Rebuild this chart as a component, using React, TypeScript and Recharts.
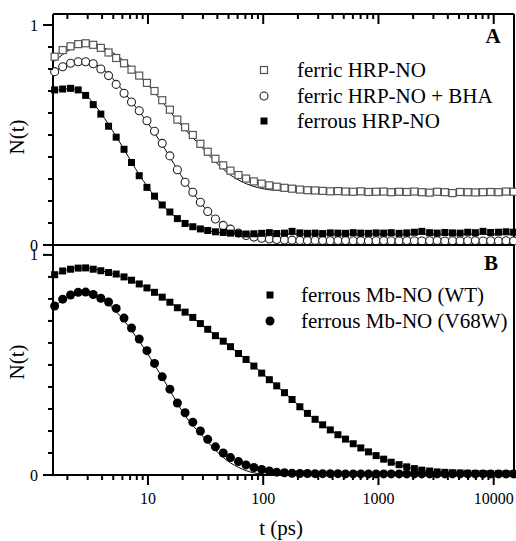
import React from "react";
import { ComposedChart, Line, XAxis, YAxis } from "recharts";

// sampling times (ps), shared by all series
const TIMES = [
  1.55, 1.82, 2.13, 2.48, 2.88, 3.35, 3.9, 4.55, 5.3, 6.2,
  7.2, 8.4, 9.8, 11.4, 13.3, 15.5, 18, 21, 24.5, 28.5,
  33, 38.5, 45, 52, 61, 71, 83, 97, 113, 131,
  153, 178, 208, 242, 282, 328, 382, 445, 518, 604,
  703, 819, 954, 1110, 1290, 1510, 1760, 2050, 2380, 2780,
  3230, 3770, 4390, 5110, 5950, 6930, 8080, 9410, 11000, 12800, 14900,
];

// panel A
const FERRIC = [
  0.856, 0.886, 0.903, 0.913, 0.917, 0.91, 0.896, 0.875, 0.85, 0.826,
  0.797, 0.77, 0.737, 0.7, 0.658, 0.615, 0.57, 0.535, 0.5, 0.46,
  0.424, 0.392, 0.362, 0.338, 0.318, 0.302, 0.289, 0.279, 0.271, 0.265,
  0.26, 0.256, 0.252, 0.249, 0.248, 0.246, 0.244, 0.245, 0.243, 0.242,
  0.244, 0.241, 0.242, 0.243, 0.24, 0.242, 0.241, 0.243, 0.24, 0.238,
  0.242, 0.24, 0.236, 0.241, 0.24, 0.239, 0.24, 0.241, 0.24, 0.243, 0.242,
];
const FERRIC_FIT = [
  0.835, 0.866, 0.89, 0.906, 0.913, 0.912, 0.903, 0.886, 0.864, 0.836,
  0.805, 0.77, 0.733, 0.693, 0.651, 0.608, 0.565, 0.525, 0.488, 0.452,
  0.414, 0.378, 0.345, 0.318, 0.296, 0.279, 0.266, 0.257, 0.251, 0.248,
  0.246, 0.245, 0.244, 0.244, 0.243, 0.243, 0.243, 0.243, 0.243, 0.243,
  0.243, 0.243, 0.243, 0.243, 0.243, 0.243, 0.243, 0.243, 0.243, 0.243,
  0.243, 0.243, 0.243, 0.243, 0.243, 0.243, 0.243, 0.243, 0.243, 0.243, 0.243,
];
const BHA = [
  0.788, 0.81, 0.826, 0.833, 0.833, 0.824, 0.8, 0.77, 0.73, 0.69,
  0.65, 0.61, 0.565, 0.517, 0.462, 0.405, 0.342, 0.285, 0.24, 0.194,
  0.152, 0.118, 0.089, 0.072, 0.054, 0.043, 0.036, 0.031, 0.027, 0.025,
  0.023, 0.022, 0.021, 0.02, 0.021, 0.02, 0.019, 0.02, 0.02, 0.019,
  0.02, 0.018, 0.019, 0.02, 0.019, 0.018, 0.02, 0.019, 0.018, 0.019,
  0.02, 0.018, 0.019, 0.018, 0.019, 0.02, 0.018, 0.019, 0.018, 0.019, 0.018,
];
const BHA_FIT = [
  0.79, 0.81, 0.825, 0.833, 0.834, 0.826, 0.806, 0.776, 0.738, 0.695,
  0.652, 0.607, 0.56, 0.51, 0.456, 0.4, 0.343, 0.288, 0.238, 0.193,
  0.153, 0.119, 0.091, 0.069, 0.052, 0.04, 0.031, 0.025, 0.021, 0.019,
  0.017, 0.016, 0.016, 0.015, 0.015, 0.015, 0.015, 0.015, 0.015, 0.015,
  0.015, 0.015, 0.015, 0.015, 0.015, 0.015, 0.015, 0.015, 0.015, 0.015,
  0.015, 0.015, 0.015, 0.015, 0.015, 0.015, 0.015, 0.015, 0.015, 0.015, 0.015,
];
const FERROUS = [
  0.705, 0.709, 0.712, 0.705, 0.68, 0.638, 0.595, 0.54, 0.49, 0.435,
  0.375, 0.315, 0.262, 0.222, 0.182, 0.15, 0.12, 0.098, 0.083, 0.073,
  0.066, 0.06, 0.057, 0.054, 0.052, 0.05, 0.051, 0.053, 0.056, 0.052,
  0.054, 0.062, 0.055, 0.053, 0.054, 0.052, 0.055, 0.054, 0.053, 0.056,
  0.054, 0.053, 0.055, 0.054, 0.056, 0.053, 0.055, 0.058, 0.062, 0.056,
  0.054, 0.057, 0.055, 0.054, 0.058, 0.056, 0.062, 0.057, 0.058, 0.06, 0.058,
];
const FERROUS_FIT = [
  0.7, 0.708, 0.71, 0.703, 0.683, 0.645, 0.6, 0.548, 0.493, 0.435,
  0.377, 0.32, 0.268, 0.222, 0.182, 0.148, 0.121, 0.1, 0.084, 0.072,
  0.064, 0.058, 0.055, 0.052, 0.051, 0.05, 0.05, 0.05, 0.05, 0.05,
  0.05, 0.05, 0.05, 0.05, 0.05, 0.05, 0.05, 0.05, 0.05, 0.05,
  0.05, 0.05, 0.05, 0.05, 0.05, 0.05, 0.05, 0.05, 0.05, 0.05,
  0.05, 0.05, 0.05, 0.05, 0.05, 0.05, 0.05, 0.05, 0.05, 0.05, 0.05,
];

// panel B
const WT = [
  0.91, 0.927, 0.935, 0.94, 0.941, 0.935, 0.928, 0.92, 0.913, 0.9,
  0.885, 0.868, 0.85, 0.83, 0.808, 0.785, 0.76, 0.74, 0.716, 0.688,
  0.662, 0.633, 0.608, 0.583, 0.552, 0.525, 0.495, 0.463, 0.433, 0.405,
  0.374, 0.343, 0.31, 0.28, 0.253, 0.228, 0.205, 0.183, 0.163, 0.142,
  0.123, 0.105, 0.088, 0.072, 0.058, 0.047, 0.037, 0.029, 0.022, 0.018,
  0.014, 0.012, 0.01, 0.009, 0.008, 0.007, 0.007, 0.006, 0.006, 0.006, 0.006,
];
const WT_FIT = [
  0.906, 0.925, 0.936, 0.94, 0.94, 0.936, 0.929, 0.92, 0.91, 0.898,
  0.884, 0.868, 0.85, 0.83, 0.808, 0.785, 0.761, 0.738, 0.714, 0.688,
  0.662, 0.635, 0.608, 0.582, 0.553, 0.525, 0.495, 0.464, 0.434, 0.404,
  0.374, 0.343, 0.311, 0.28, 0.253, 0.228, 0.205, 0.183, 0.162, 0.142,
  0.123, 0.105, 0.088, 0.072, 0.058, 0.046, 0.036, 0.028, 0.021, 0.016,
  0.012, 0.009, 0.007, 0.006, 0.005, 0.005, 0.005, 0.005, 0.005, 0.005, 0.005,
];
const V68W = [
  0.768, 0.799, 0.818, 0.83, 0.831, 0.82, 0.803, 0.786, 0.757, 0.713,
  0.668, 0.618, 0.565, 0.507, 0.446, 0.39, 0.327, 0.283, 0.24, 0.2,
  0.162, 0.128, 0.1, 0.079, 0.061, 0.046, 0.034, 0.025, 0.018, 0.013,
  0.01, 0.008, 0.007, 0.007, 0.006, 0.006, 0.006, 0.006, 0.005, 0.005,
  0.005, 0.005, 0.005, 0.005, 0.005, 0.005, 0.005, 0.005, 0.005, 0.005,
  0.005, 0.005, 0.005, 0.005, 0.005, 0.005, 0.005, 0.005, 0.005, 0.005, 0.005,
];
const V68W_FIT = [
  0.765, 0.795, 0.815, 0.828, 0.83, 0.822, 0.803, 0.776, 0.742, 0.702,
  0.657, 0.608, 0.556, 0.5, 0.443, 0.385, 0.326, 0.27, 0.225, 0.188,
  0.15, 0.113, 0.08, 0.055, 0.035, 0.02, 0.01, 0.004, 0.001, 0,
  0, 0, 0, 0, 0, 0, 0, 0, 0, 0,
  0, 0, 0, 0, 0, 0, 0, 0, 0, 0,
  0, 0, 0, 0, 0, 0, 0, 0, 0, 0, 0,
];

const X_MAJOR = [10, 100, 1000, 10000];
const X_MINOR = [
  2, 3, 4, 5, 6, 7, 8, 9,
  20, 30, 40, 50, 60, 70, 80, 90,
  200, 300, 400, 500, 600, 700, 800, 900,
  2000, 3000, 4000, 5000, 6000, 7000, 8000, 9000,
];
const Y_TICKS = [0, 0.1, 0.2, 0.3, 0.4, 0.5, 0.6, 0.7, 0.8, 0.9, 1];
const Y_LABELED = [0, 1];

const X_DOMAIN: [number, number] = [1.5, 15000];
const X_TICKS = [...X_MINOR, ...X_MAJOR].sort((a, b) => a - b);

const rows = TIMES.map((t, i) => ({
  t,
  ferric: FERRIC[i],
  ferricFit: FERRIC_FIT[i],
  bha: BHA[i],
  bhaFit: BHA_FIT[i],
  ferrous: FERROUS[i],
  ferrousFit: FERROUS_FIT[i],
  wt: WT[i],
  wtFit: WT_FIT[i],
  v68w: V68W[i],
  v68wFit: V68W_FIT[i],
}));

const FONT = "Liberation Serif";
const AXIS = { stroke: "#000", strokeWidth: 2 };
const txt = { fontFamily: FONT, fill: "#000" };

const leftTick = (p: any) => {
  const v = p.payload.value;
  const major = Y_LABELED.includes(v);
  const len = major ? 10 : 5;
  return (
    <g>
      <line x1={p.x - len} y1={p.y} x2={p.x} y2={p.y} stroke="#000" strokeWidth={2} />
      {major && (
        <text x={p.x - len - 5} y={p.y + 5.5} textAnchor="end" fontSize={16} {...txt}>
          {v}
        </text>
      )}
    </g>
  );
};

// ticks on the top frame of panel A point inwards
const topTick = (p: any) => {
  const len = X_MAJOR.includes(p.payload.value) ? 10 : 5;
  return <line x1={p.x} y1={p.y} x2={p.x} y2={p.y + len} stroke="#000" strokeWidth={2} />;
};

const bottomTick = (p: any) => {
  const v = p.payload.value;
  const major = X_MAJOR.includes(v);
  const len = major ? 10 : 5;
  return (
    <g>
      <line x1={p.x} y1={p.y} x2={p.x} y2={p.y + len} stroke="#000" strokeWidth={2} />
      {major && (
        <text x={p.x} y={p.y + 29} textAnchor="middle" fontSize={16} {...txt}>
          {v}
        </text>
      )}
    </g>
  );
};

const openSquare = (p: any) => (
  <rect key={`os${p.index}`} x={p.cx - 3.5} y={p.cy - 3.5} width={7} height={7} fill="#fff" stroke="#555" strokeWidth={1.2} />
);
const openCircle = (p: any) => (
  <circle key={`oc${p.index}`} cx={p.cx} cy={p.cy} r={4} fill="#fff" stroke="#222" strokeWidth={1.1} />
);
const filledSquare = (p: any) => (
  <rect key={`fs${p.index}`} x={p.cx - 3.5} y={p.cy - 3.5} width={7} height={7} fill="#000" />
);
const filledCircle = (p: any) => (
  <circle key={`fc${p.index}`} cx={p.cx} cy={p.cy} r={4.5} fill="#000" />
);

const fit = (key: string) => (
  <Line
    key={key}
    xAxisId="x"
    yAxisId="y"
    type="monotone"
    dataKey={key}
    stroke="#000"
    strokeWidth={1}
    dot={false}
    activeDot={false}
    isAnimationActive={false}
  />
);

const marks = (key: string, dot: (p: any) => React.ReactElement) => (
  <Line
    key={key}
    xAxisId="x"
    yAxisId="y"
    type="linear"
    dataKey={key}
    stroke="none"
    dot={dot}
    activeDot={false}
    isAnimationActive={false}
  />
);

// plot area: x 53..514, 220 px per unit of N(t)
const Panel = ({
  height,
  top,
  yMax,
  topTicks,
  children,
}: {
  height: number;
  top: number;
  yMax: number;
  topTicks: boolean;
  children: React.ReactNode;
}) => {
  const plotH = Math.round(yMax * 220);
  return (
    <ComposedChart
      width={516}
      height={height}
      data={rows}
      margin={{ top: top - 1, right: 1, bottom: height - top - plotH - 1, left: 52 }}
    >
      <XAxis
        xAxisId="x"
        dataKey="t"
        type="number"
        scale="log"
        domain={X_DOMAIN}
        orientation={topTicks ? "top" : "bottom"}
        ticks={X_TICKS}
        interval={0}
        height={1}
        tickSize={0}
        tickMargin={0}
        tickLine={false}
        axisLine={AXIS}
        tick={topTicks ? topTick : bottomTick}
      />
      <XAxis
        xAxisId="xf"
        type="number"
        scale="log"
        domain={X_DOMAIN}
        allowDataOverflow
        orientation={topTicks ? "bottom" : "top"}
        ticks={X_MAJOR}
        height={1}
        tick={false}
        tickLine={false}
        axisLine={AXIS}
      />
      <YAxis
        yAxisId="y"
        type="number"
        domain={[0, yMax]}
        ticks={Y_TICKS}
        interval={0}
        width={1}
        tickSize={0}
        tickMargin={0}
        tickLine={false}
        axisLine={AXIS}
        tick={leftTick}
      />
      <YAxis
        yAxisId="yf"
        type="number"
        orientation="right"
        domain={[0, yMax]}
        allowDataOverflow
        ticks={Y_LABELED}
        width={1}
        tick={false}
        tickLine={false}
        axisLine={AXIS}
      />
      {children}
    </ComposedChart>
  );
};

export default function App() {
  return (
    <div style={{ position: "absolute", left: 0, top: 0, width: 516, height: 541, background: "#fff" }}>
      <div style={{ position: "absolute", left: 0, top: 0 }}>
        <Panel height={262} top={14} yMax={1.05} topTicks>
          {fit("ferricFit")}
          {fit("bhaFit")}
          {fit("ferrousFit")}
          {marks("ferric", openSquare)}
          {marks("bha", openCircle)}
          {marks("ferrous", filledSquare)}
        </Panel>
      </div>
      <div style={{ position: "absolute", left: 0, top: 240 }}>
        <Panel height={301} top={5} yMax={1.045} topTicks={false}>
          {fit("wtFit")}
          {fit("v68wFit")}
          {marks("wt", filledSquare)}
          {marks("v68w", filledCircle)}
        </Panel>
      </div>
      <svg
        width={516}
        height={541}
        style={{ position: "absolute", left: 0, top: 0, pointerEvents: "none" }}
      >
        <text x={493} y={42.5} textAnchor="middle" fontSize={21} fontWeight="bold" {...txt}>A</text>
        <text x={491} y={269.5} textAnchor="middle" fontSize={21} fontWeight="bold" {...txt}>B</text>

        <rect x={260.5} y={66.5} width={7} height={7} fill="#fff" stroke="#555" strokeWidth={1.2} />
        <text x={297} y={77} fontSize={21} {...txt}>ferric HRP-NO</text>
        <circle cx={264} cy={96} r={4} fill="#fff" stroke="#222" strokeWidth={1.1} />
        <text x={297} y={103} fontSize={21} {...txt}>ferric HRP-NO + BHA</text>
        <rect x={260.5} y={117.5} width={7} height={7} fill="#000" />
        <text x={297} y={128} fontSize={21} {...txt}>ferrous HRP-NO</text>

        <rect x={266.5} y={291.5} width={7} height={7} fill="#000" />
        <text x={301} y={302} fontSize={21} {...txt}>ferrous Mb-NO (WT)</text>
        <circle cx={270} cy={321} r={4.5} fill="#000" />
        <text x={301} y={328} fontSize={21} {...txt}>ferrous Mb-NO (V68W)</text>

        <text transform="translate(24,137) rotate(-90)" textAnchor="middle" fontSize={21} {...txt}>N(t)</text>
        <text transform="translate(24,362) rotate(-90)" textAnchor="middle" fontSize={21} {...txt}>N(t)</text>
        <text x={281} y={535} textAnchor="middle" fontSize={21} {...txt}>t (ps)</text>
      </svg>
    </div>
  );
}
